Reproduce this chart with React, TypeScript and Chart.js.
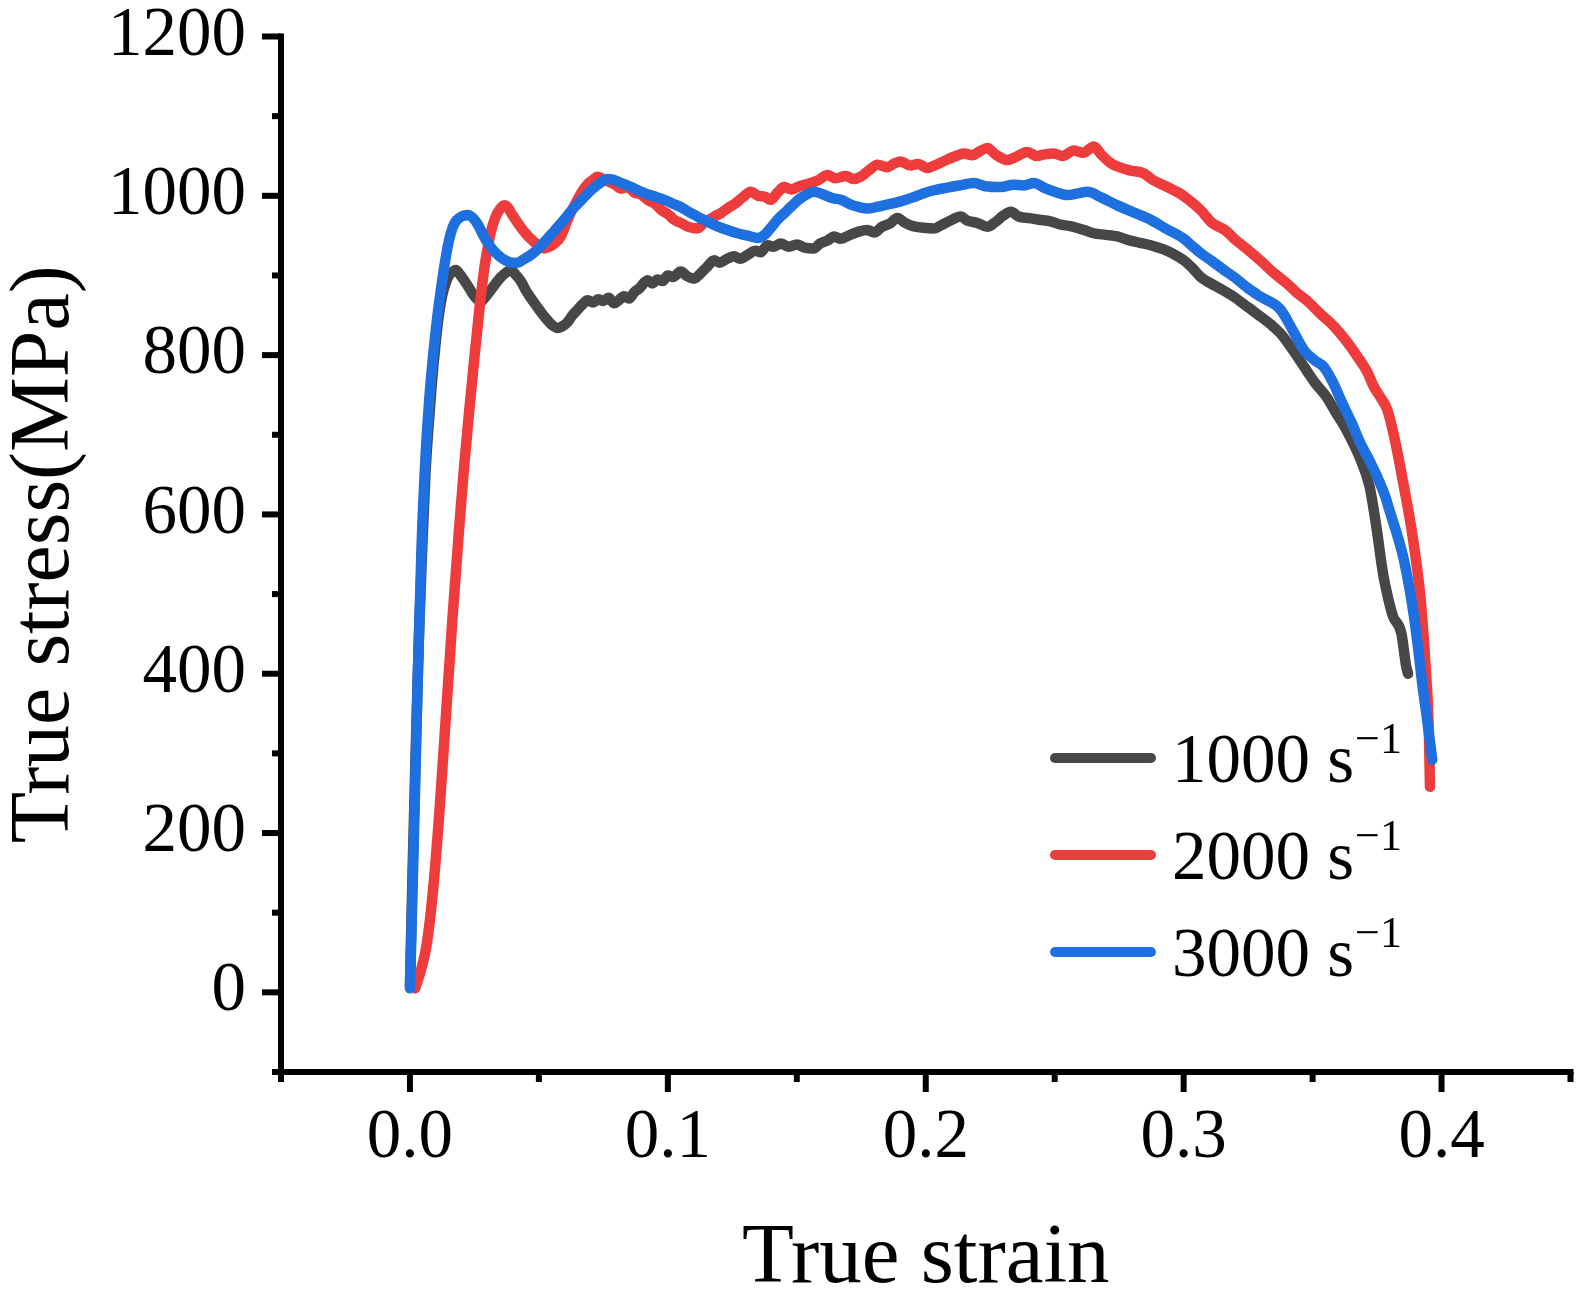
import { useEffect, useRef } from 'react';
import { Chart, registerables } from 'chart.js';

Chart.register(...registerables);

// ---------- data ----------
const seriesNames = ['1000', '2000', '3000'];
const unitText = 's';
const unitSup = '\u22121';
const seriesColors = ['#474747', '#EE3B3B', '#1E6FE0'];

const xTickValues = [0, 0.1, 0.2, 0.3, 0.4];
const xMinorValues = [-0.05, 0.05, 0.15, 0.25, 0.35, 0.45];
const yTickValues = [0, 200, 400, 600, 800, 1000, 1200];
const yMinorValues = [-100, 100, 300, 500, 700, 900, 1100];

const strain1000 = [
  0.0, 0.001, 0.0022, 0.0035, 0.0048, 0.006, 0.0072, 0.0085, 0.0098, 0.011, 0.0122, 0.0135, 0.0148, 0.0162,
  0.0178, 0.0192, 0.021, 0.0228, 0.0245, 0.0262, 0.0275, 0.029, 0.031, 0.033, 0.035, 0.037, 0.0391, 0.041,
  0.043, 0.045, 0.047, 0.049, 0.051, 0.053, 0.055, 0.0572, 0.059, 0.061, 0.063, 0.065, 0.067, 0.0689, 0.071,
  0.073, 0.075, 0.077, 0.0792, 0.081, 0.083, 0.085, 0.087, 0.089, 0.0921, 0.094, 0.096, 0.098, 0.1, 0.102,
  0.105, 0.1075, 0.11, 0.1128, 0.115, 0.118, 0.12, 0.123, 0.1257, 0.128, 0.131, 0.134, 0.136, 0.1386, 0.141,
  0.1438, 0.147, 0.15, 0.153, 0.1567, 0.159, 0.162, 0.1645, 0.167, 0.17, 0.174, 0.1774, 0.18, 0.183, 0.186,
  0.189, 0.192, 0.195, 0.199, 0.2032, 0.206, 0.209, 0.2136, 0.216, 0.22, 0.2239, 0.227, 0.23, 0.233, 0.236,
  0.24, 0.244, 0.2484, 0.252, 0.256, 0.2614, 0.265, 0.27, 0.2743, 0.279, 0.283, 0.2872, 0.292, 0.296, 0.3001,
  0.3035, 0.3066, 0.31, 0.315, 0.32, 0.325, 0.33, 0.334, 0.3376, 0.342, 0.3476, 0.351, 0.3553, 0.359, 0.3631,
  0.3682, 0.3721, 0.3747, 0.3773, 0.3795, 0.3812, 0.3844, 0.3863, 0.387,
];
const stress1000 = [
  8, 150, 300, 450, 560, 650, 710, 765, 810, 845, 870, 887, 898, 904,
  907, 902, 894, 885, 876, 870, 867, 872, 880, 889, 897, 903, 907, 901,
  893, 881, 871, 862, 853, 845, 838, 834, 836, 841, 850, 857, 864, 869, 866,
  870, 868, 872, 865, 869, 874, 871, 879, 884, 894, 890, 895, 893, 900, 898,
  905, 899, 896, 903, 910, 919, 916, 921, 924, 921, 926, 931, 929, 938, 936,
  940, 936, 939, 935, 934, 940, 944, 949, 946, 950, 955, 957, 954, 961, 965,
  972, 966, 962, 960, 959, 963, 968, 974, 969, 966, 961, 967, 975, 980, 974,
  972, 970, 968, 964, 962, 957, 953, 951, 949, 944, 941, 938, 933, 927, 919,
  909, 898, 891, 882, 872, 860, 848, 838, 827, 808, 781, 765, 748, 728, 706,
  672, 635, 585, 526, 492, 472, 451, 409, 400,
];

const strain2000 = [
  0.002, 0.004, 0.0065, 0.009, 0.0115, 0.014, 0.0165, 0.019, 0.021, 0.023, 0.0249, 0.0269, 0.0288, 0.03,
  0.0314, 0.033, 0.0348, 0.0366, 0.038, 0.0395, 0.042, 0.044, 0.0456, 0.0475, 0.05, 0.052, 0.054, 0.056,
  0.0585, 0.0605, 0.0625, 0.0645, 0.0663, 0.069, 0.071, 0.0727, 0.075, 0.077, 0.0795, 0.0818, 0.0845, 0.087,
  0.0895, 0.0921, 0.095, 0.0975, 0.1, 0.1024, 0.105, 0.108, 0.1115, 0.114, 0.116, 0.118, 0.1205, 0.123,
  0.126, 0.129, 0.1322, 0.135, 0.1375, 0.1399, 0.1425, 0.1451, 0.148, 0.151, 0.1554, 0.1585, 0.1619, 0.165,
  0.169, 0.172, 0.1748, 0.178, 0.1813, 0.185, 0.188, 0.1903, 0.194, 0.197, 0.2007, 0.204, 0.208, 0.211,
  0.2149, 0.218, 0.221, 0.2239, 0.227, 0.2317, 0.235, 0.2394, 0.243, 0.246, 0.2497, 0.253, 0.2575, 0.261,
  0.2652, 0.268, 0.2717, 0.275, 0.279, 0.2846, 0.288, 0.2937, 0.298, 0.302, 0.3066, 0.311, 0.316, 0.32,
  0.325, 0.33, 0.335, 0.34, 0.344, 0.3476, 0.353, 0.3583, 0.363, 0.3674, 0.371, 0.3738, 0.3765, 0.379,
  0.3822, 0.3854, 0.3886, 0.3919, 0.3938, 0.3951, 0.3955,
];
const stress2000 = [
  5, 25, 60, 130, 230, 350, 470, 580, 660, 731, 794, 857, 908, 932,
  955, 972, 983, 988, 985, 977, 965, 956, 950, 944, 937, 934, 936, 940,
  949, 965, 980, 992, 1003, 1015, 1020, 1024, 1021, 1018, 1014, 1009, 1011, 1004,
  1002, 995, 990, 982, 977, 970, 966, 961, 959, 966, 970, 974, 978, 984,
  990, 998, 1005, 1000, 999, 995, 1004, 1011, 1008, 1012, 1016, 1020, 1026, 1022,
  1025, 1021, 1024, 1032, 1039, 1036, 1041, 1043, 1038, 1040, 1035, 1039, 1045, 1049,
  1053, 1051, 1056, 1060, 1052, 1045, 1049, 1055, 1050, 1052, 1053, 1050, 1057, 1054,
  1062, 1052, 1041, 1036, 1032, 1028, 1020, 1011, 1004, 995, 982, 966, 957, 945,
  932, 918, 903, 890, 878, 869, 852, 836, 818, 798, 780, 760, 746, 731,
  689, 635, 576, 493, 409, 325, 258,
];

const strain3000 = [
  0.0, 0.0015, 0.003, 0.0045, 0.006, 0.0075, 0.009, 0.0105, 0.012, 0.0135, 0.015, 0.0165, 0.018, 0.02,
  0.0224, 0.0245, 0.0265, 0.0285, 0.031, 0.034, 0.037, 0.0395, 0.0417, 0.044, 0.047, 0.0495, 0.053, 0.056,
  0.0598, 0.063, 0.066, 0.0689, 0.072, 0.0745, 0.0766, 0.079, 0.082, 0.0857, 0.089, 0.092, 0.095, 0.0986,
  0.102, 0.105, 0.108, 0.1115, 0.115, 0.119, 0.1231, 0.127, 0.131, 0.1348, 0.1375, 0.14, 0.1425, 0.1451,
  0.148, 0.151, 0.154, 0.1567, 0.16, 0.164, 0.1671, 0.171, 0.174, 0.1774, 0.181, 0.185, 0.1903, 0.195,
  0.199, 0.2032, 0.208, 0.213, 0.2187, 0.223, 0.2291, 0.234, 0.238, 0.242, 0.246, 0.25, 0.2549, 0.259,
  0.2627, 0.268, 0.2743, 0.28, 0.2872, 0.293, 0.3001, 0.303, 0.3066, 0.311, 0.316, 0.32, 0.325, 0.33,
  0.3376, 0.342, 0.3467, 0.351, 0.3544, 0.358, 0.3609, 0.365, 0.3686, 0.372, 0.3751, 0.378, 0.3802, 0.383,
  0.3854, 0.3875, 0.3893, 0.391, 0.3925, 0.3945, 0.3964,
];
const stress3000 = [
  5, 190, 390, 560, 670, 745, 800, 845, 882, 915, 942, 960, 969, 974,
  976, 972, 963, 950, 937, 926, 919, 916, 916, 920, 926, 933, 945, 956,
  970, 983, 993, 1003, 1012, 1018, 1021, 1020, 1016, 1011, 1006, 1002, 999, 995,
  990, 986, 980, 974, 968, 962, 957, 953, 950, 947, 951, 960, 970, 978,
  987, 996, 1002, 1005, 1002, 997, 995, 989, 986, 984, 986, 989, 993, 998,
  1003, 1007, 1010, 1013, 1016, 1012, 1011, 1014, 1013, 1016, 1010, 1005, 1001, 1003,
  1005, 998, 988, 980, 970, 959, 946, 938, 928, 918, 906, 897, 884, 873,
  857, 833, 806, 793, 785, 765, 744, 716, 689, 668, 647, 624, 601, 572,
  543, 508, 472, 430, 388, 340, 292,
];

const strainSeries = [strain1000, strain2000, strain3000];
const stressSeries = [stress1000, stress2000, stress3000];

const xTitle = 'True strain';
const yTitle = 'True stress(MPa)';

// ---------- styling ----------
const FONT = '"Liberation Serif", "Times New Roman", Times, serif';
const W = 1584;
const H = 1306;

const axesPlugin = {
  id: 'originAxes',
  afterDraw(chart: any) {
    const ctx = chart.ctx as CanvasRenderingContext2D;
    const { left, right, top, bottom } = chart.chartArea;
    const xs = chart.scales.x;
    const ys = chart.scales.y;
    const lw = 6;
    const half = lw / 2;
    const major = 19;
    const minor = 9;
    ctx.save();
    ctx.fillStyle = '#000';
    ctx.fillRect(left - half, top - half, lw, bottom - top + lw);
    ctx.fillRect(left - half, bottom - half, right - left + lw, lw);
    yTickValues.forEach((v) => {
      const p = ys.getPixelForValue(v);
      ctx.fillRect(left - major, p - half, major, lw);
    });
    yMinorValues.forEach((v) => {
      const p = ys.getPixelForValue(v);
      ctx.fillRect(left - minor, p - half, minor, lw);
    });
    xTickValues.forEach((v) => {
      const p = xs.getPixelForValue(v);
      ctx.fillRect(p - half, bottom, lw, major + 1);
    });
    xMinorValues.forEach((v) => {
      const p = xs.getPixelForValue(v);
      ctx.fillRect(p - half, bottom, lw, minor + 1);
    });
    ctx.restore();
  },
};

const legendPlugin = {
  id: 'rateLegend',
  afterDraw(chart: any) {
    const ctx = chart.ctx as CanvasRenderingContext2D;
    const rowY = [758, 855, 952];
    const lineX0 = 1055;
    const lineX1 = 1151;
    const textX = 1172;
    ctx.save();
    chart.data.datasets.forEach((ds: any, i: number) => {
      const y = rowY[i];
      ctx.strokeStyle = ds.borderColor;
      ctx.lineWidth = 10;
      ctx.lineCap = 'round';
      ctx.beginPath();
      ctx.moveTo(lineX0, y);
      ctx.lineTo(lineX1, y);
      ctx.stroke();
      ctx.fillStyle = '#000';
      ctx.textBaseline = 'alphabetic';
      ctx.textAlign = 'left';
      ctx.font = `69px ${FONT}`;
      const main = `${seriesNames[i]} ${unitText}`;
      ctx.fillText(main, textX, y + 24);
      const w = ctx.measureText(main).width;
      ctx.font = `44px ${FONT}`;
      ctx.fillText(unitSup, textX + w + 1, y - 5);
    });
    ctx.restore();
  },
};

export default function App() {
  const canvasRef = useRef<HTMLCanvasElement | null>(null);

  useEffect(() => {
    document.body.style.margin = '0';
    const canvas = canvasRef.current;
    if (!canvas) return;
    const drawOrder = [3, 2, 1];
    const datasets = seriesNames.map((name, i) => ({
      label: `${name} ${unitText}${unitSup}`,
      data: strainSeries[i].map((x, j) => ({ x, y: stressSeries[i][j] })),
      borderColor: seriesColors[i],
      backgroundColor: seriesColors[i],
      borderWidth: 10.5,
      borderCapStyle: 'round' as const,
      borderJoinStyle: 'round' as const,
      pointRadius: 0,
      cubicInterpolationMode: 'monotone' as const,
      fill: false,
      order: drawOrder[i],
    }));

    const chart = new Chart(canvas, {
      type: 'line',
      data: { datasets },
      options: {
        responsive: false,
        animation: false,
        devicePixelRatio: 1,
        layout: { padding: { top: 36.5, right: 13.5, left: 0, bottom: 0 } },
        plugins: { legend: { display: false }, tooltip: { enabled: false } },
        scales: {
          x: {
            type: 'linear',
            min: -0.05,
            max: 0.45,
            afterBuildTicks: (scale: any) => {
              scale.ticks = xTickValues.map((v) => ({ value: v }));
            },
            afterFit: (scale: any) => {
              scale.height = 234;
              scale.paddingLeft = 0;
              scale.paddingRight = 0;
              scale.paddingTop = 0;
              scale.paddingBottom = 0;
            },
            grid: { display: false, drawTicks: false },
            border: { display: false },
            ticks: {
              color: '#000',
              padding: 32,
              maxRotation: 0,
              autoSkip: false,
              font: { family: FONT, size: 69, lineHeight: 1 },
              callback: (v: any) => Number(v).toFixed(1),
            },
            title: {
              display: true,
              text: xTitle,
              color: '#000',
              font: { family: FONT, size: 85, lineHeight: 1 },
              padding: { top: 0, bottom: 4 },
            },
          },
          y: {
            type: 'linear',
            min: -100,
            max: 1200,
            afterBuildTicks: (scale: any) => {
              scale.ticks = yTickValues.map((v) => ({ value: v }));
            },
            afterFit: (scale: any) => {
              scale.width = 281;
              scale.paddingLeft = 0;
              scale.paddingRight = 0;
              scale.paddingTop = 0;
              scale.paddingBottom = 0;
            },
            grid: { display: false, drawTicks: false },
            border: { display: false },
            ticks: {
              color: '#000',
              padding: 35,
              autoSkip: false,
              font: { family: FONT, size: 69, lineHeight: 1 },
              callback: (v: any) => String(v),
            },
            title: {
              display: true,
              text: yTitle,
              color: '#000',
              font: { family: FONT, size: 84, lineHeight: 1 },
              padding: { top: 4, bottom: 0 },
            },
          },
        },
      },
      plugins: [axesPlugin, legendPlugin],
    });
    return () => chart.destroy();
  }, []);

  return (
    <div style={{ width: W, height: H, position: 'relative', background: '#fff' }}>
      <canvas ref={canvasRef} width={W} height={H} style={{ display: 'block' }} />
    </div>
  );
}
